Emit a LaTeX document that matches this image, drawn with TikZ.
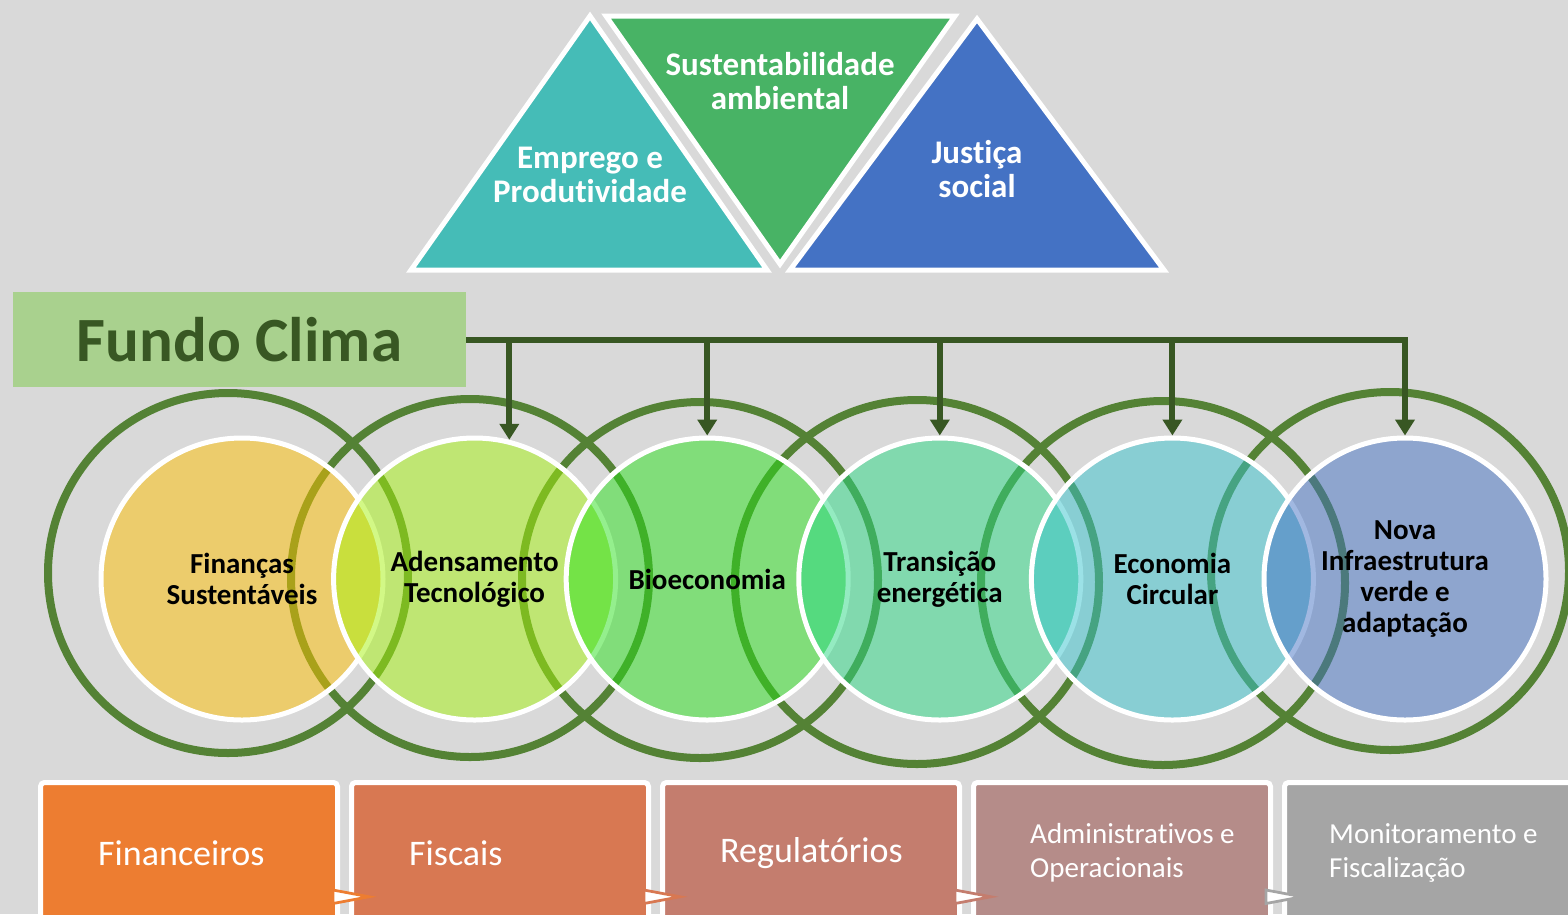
\documentclass[tikz,border=0pt]{standalone}
\usepackage{fontspec}
\setmainfont{Carlito}[Ligatures={NoCommon,NoContextual}]
\usetikzlibrary{arrows.meta}
\definecolor{canvas}{HTML}{D9D9D9}
\definecolor{emprego}{HTML}{45BCB7}
\definecolor{ambiente}{HTML}{48B365}
\definecolor{justica}{HTML}{4472C4}
\definecolor{fundolight}{HTML}{A9D18E}
\definecolor{fundodark}{HTML}{385723}
\definecolor{ringgreen}{HTML}{548235}
\definecolor{hub1}{HTML}{FFC000}
\definecolor{hub2}{HTML}{A7F30F}
\definecolor{hub3}{HTML}{2BE11D}
\definecolor{hub4}{HTML}{2BD985}
\definecolor{hub5}{HTML}{39C5CF}
\definecolor{hub6}{HTML}{4472C4}
\definecolor{lev1}{HTML}{ED7D31}
\definecolor{lev2}{HTML}{D87852}
\definecolor{lev3}{HTML}{C47D6E}
\definecolor{lev4}{HTML}{B58C89}
\definecolor{lev5}{HTML}{A5A5A5}
\tikzstyle{pillar} = [draw=white, line width=5pt, line join=miter]
\tikzstyle{pillartext} = [text=white, align=center, font=\bfseries\fontsize{33}{34}\selectfont]
\tikzstyle{fund} = [rectangle, minimum width=453pt, minimum height=95pt, fill=fundolight, text=fundodark, font=\bfseries\fontsize{63}{70}\selectfont]
\tikzstyle{ring} = [draw=ringgreen, line width=8pt]
\tikzstyle{hub} = [circle, minimum size=282pt, inner sep=0pt, draw=white, line width=5pt, fill opacity=0.5, text opacity=1, align=center, font=\bfseries\fontsize{29}{31}\selectfont]
\tikzstyle{feed} = [line width=6pt, draw=fundodark, -{Triangle[width=19pt,length=16pt]}]
\tikzstyle{lever} = [rectangle, rounded corners=4pt, minimum width=297pt, minimum height=147pt, draw=white, line width=5pt]
\tikzstyle{levertext} = [anchor=west, inner sep=0pt, text=white, align=left, font=\fontsize{36}{40}\selectfont]
\tikzstyle{levertwo} = [levertext, font=\fontsize{29}{34}\selectfont]
\tikzstyle{flowtip} = [fill=white, line width=2.75pt, line join=miter]

\begin{document}
\begin{tikzpicture}[x=1pt, y=-1pt, node distance=232.6pt]
    \useasboundingbox (0,0) rectangle (1568,914);
    \clip (0,0) rectangle (1568,914);
    \fill [canvas] (0,0) rectangle (1568,914);
    % Pillars
    \filldraw [pillar, fill=emprego] (590,16) -- (767,270) -- (411,270) -- cycle;
    \filldraw [pillar, fill=ambiente] (606,16) -- (955,16) -- (780,264) -- cycle;
    \filldraw [pillar, fill=justica] (977,19) -- (1164,270) -- (790,270) -- cycle;
    \node (emp) [pillartext] at (590,175) {Emprego e\\Produtividade};
    \node (amb) [pillartext] at (780,81) {Sustentabilidade\\ambiental};
    \node (jus) [pillartext] at (977,169) {Justiça\\social};
    % Fund
    \node (fundo) [fund] at (239.5,339.5) {Fundo Clima};
    % Rings
    \draw [ring] (228,573) circle [radius=180];
    \draw [ring] (470,578) circle [radius=179];
    \draw [ring] (700,580) circle [radius=178];
    \draw [ring] (917,582) circle [radius=182];
    \draw [ring] (1163,583) circle [radius=182];
    \draw [ring] (1390,571) circle [radius=179];
    % Themes
    \node (fin) [hub, fill=hub1] at (242,579) {Finanças\\Sustentáveis};
    \node (ade) [hub, fill=hub2, right of=fin] {Adensamento\\Tecnológico};
    \node (bio) [hub, fill=hub3, right of=ade] {Bioeconomia};
    \node (tra) [hub, fill=hub4, right of=bio] {Transição\\energética};
    \node (eco) [hub, fill=hub5, right of=tra] {Economia\\Circular};
    \node (inf) [hub, fill=hub6, right of=eco] {Nova\\Infraestrutura\\verde e\\adaptação};
    % Arrows
    \draw [feed] (fundo.east) -| (ade.76);
    \draw [feed] (fundo.east) -| (bio.north);
    \draw [feed] (fundo.east) -| (tra.north);
    \draw [feed] (fundo.east) -| (eco.north);
    \draw [feed] (fundo.east) -| (inf.north);
    % Instruments
    \node (lfin) [lever, fill=lev1] at (189,856) {};
    \node (lfis) [lever, fill=lev2, right of=lfin, node distance=311pt] {};
    \node (lreg) [lever, fill=lev3, right of=lfis, node distance=311pt] {};
    \node (ladm) [lever, fill=lev4, right of=lreg, node distance=311pt] {};
    \node (lmon) [lever, fill=lev5, right of=ladm, node distance=311pt] {};
    \node (lfin-t) [levertext] at ([xshift=60pt,yshift=3pt]lfin.west) {Financeiros};
    \node (lfis-t) [levertext] at ([xshift=60pt,yshift=3pt]lfis.west) {Fiscais};
    \node (lreg-t) [levertext] at ([xshift=60pt,yshift=3pt]lreg.west) {Regulatórios};
    \node (ladm-t) [levertwo] at ([xshift=59pt,yshift=3pt]ladm.west) {Administrativos e\\Operacionais};
    \node (lmon-t) [levertwo] at ([xshift=47pt,yshift=3pt]lmon.west) {Monitoramento e\\Fiscalização};
    % Flow tips
    \filldraw [flowtip, draw=lev1] ([xshift=-7pt,yshift=-34pt]lfin.east) -- ++(0,13.5) -- ++(36,-6.75) -- cycle;
    \filldraw [flowtip, draw=lev2] ([xshift=-7pt,yshift=-34pt]lfis.east) -- ++(0,13.5) -- ++(36,-6.75) -- cycle;
    \filldraw [flowtip, draw=lev3] ([xshift=-7pt,yshift=-34pt]lreg.east) -- ++(0,13.5) -- ++(36,-6.75) -- cycle;
    \filldraw [flowtip, draw=lev5] ([xshift=-7pt,yshift=-34pt]ladm.east) -- ++(0,13.5) -- ++(36,-6.75) -- cycle;
\end{tikzpicture}
\end{document}
